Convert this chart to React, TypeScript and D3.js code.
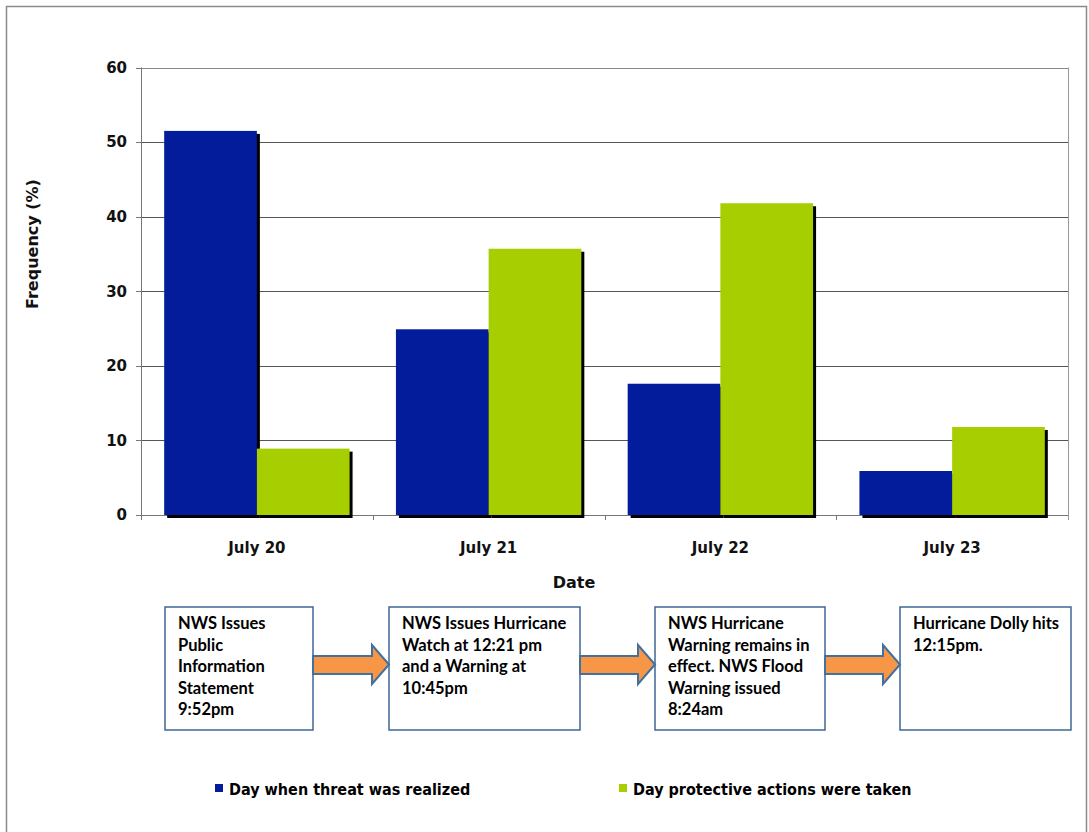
import React from "react";
import * as d3 from "d3";

const categories = ["July 20", "July 21", "July 22", "July 23"];
const seriesNames = ["Day when threat was realized", "Day protective actions were taken"];
const threatRealized = [51.5, 24.9, 17.6, 5.9];
const actionsTaken = [8.9, 35.7, 41.8, 11.8];
const yTicks = [0, 10, 20, 30, 40, 50, 60];
const seriesColors = ["#021C9C", "#A6CE00"];
const timelineTexts = [
  ["NWS Issues", "Public", "Information", "Statement", "9:52pm"],
  ["NWS Issues Hurricane", "Watch at 12:21 pm", "and a Warning at", "10:45pm"],
  ["NWS Hurricane", "Warning remains in", "effect. NWS Flood", "Warning issued", "8:24am"],
  ["Hurricane Dolly hits", "12:15pm."],
];
const boxLefts = [165, 389, 655, 900];
const boxRights = [313, 580, 825, 1071];

export default function App() {
  const left = 141, right = 1068, top = 67.5, bottom = 515;
  const x0 = d3.scaleBand<string>().domain(categories).range([left, right]).padding(0);
  const x1 = d3.scaleBand<string>().domain(seriesNames).range([0, x0.bandwidth()]).paddingInner(0).paddingOuter(0.25);
  const y = d3.scaleLinear().domain([0, 60]).range([bottom, top]);
  const series = [threatRealized, actionsTaken];
  const boxTop = 607, boxBottom = 730;
  const axisFont = "'DejaVu Sans', Verdana, sans-serif";

  const arrow = (xs: number, xe: number) => {
    const headBase = xe - 17;
    const p = d3.path();
    p.moveTo(xs, 656);
    p.lineTo(headBase, 656);
    p.lineTo(headBase, 645);
    p.lineTo(xe, 664.5);
    p.lineTo(headBase, 684);
    p.lineTo(headBase, 674);
    p.lineTo(xs, 674);
    p.closePath();
    return p.toString();
  };

  return (
    <svg width={1089} height={832} style={{ position: "absolute", left: 0, top: 0, background: "#fff" }}>
      <rect x={6.5} y={6.5} width={1080} height={840} fill="#fff" stroke="#8a8a8a" strokeWidth={1.5} />
      {/* gridlines */}
      {yTicks.map((t) => (
        <g key={t}>
          <line x1={left} x2={right} y1={Math.round(y(t)) + 0.5} y2={Math.round(y(t)) + 0.5}
            stroke={t === 60 ? "#8a8a8a" : t === 0 ? "#777" : "#555"} strokeWidth={1} />
          <line x1={136} x2={left} y1={Math.round(y(t)) + 0.5} y2={Math.round(y(t)) + 0.5} stroke="#777" />
          <text x={127} y={y(t)} dy="0.36em" textAnchor="end" fontFamily={axisFont} fontWeight="bold" fontSize={15} fill="#111">{t}</text>
        </g>
      ))}
      <line x1={left + 0.5} x2={left + 0.5} y1={top} y2={bottom + 5} stroke="#777" />
      <line x1={right + 0.5} x2={right + 0.5} y1={top} y2={bottom + 5} stroke="#999" />
      {categories.slice(1).map((c) => (
        <line key={c} x1={Math.round(x0(c)!) + 0.5} x2={Math.round(x0(c)!) + 0.5} y1={bottom} y2={bottom + 5} stroke="#777" />
      ))}
      {/* bars */}
      {series.map((vals, si) => (
        <g key={si}>
          {vals.map((v, ci) => {
            const bx = x0(categories[ci])! + x1(seriesNames[si])!;
            const w = x1.bandwidth();
            return (
              <g key={ci}>
                <rect x={bx + 3} y={y(v) + 3} width={w} height={bottom - y(v)} fill="#000" />
                <rect x={bx} y={y(v)} width={w} height={bottom - y(v)} fill={seriesColors[si]} />
              </g>
            );
          })}
        </g>
      ))}
      {/* x labels */}
      {categories.map((c) => (
        <text key={c} x={x0(c)! + x0.bandwidth() / 2} y={553} textAnchor="middle" fontFamily={axisFont} fontWeight="bold" fontSize={15} fill="#111">{c}</text>
      ))}
      <text x={574} y={588} textAnchor="middle" fontFamily={axisFont} fontWeight="bold" fontSize={16} fill="#111">Date</text>
      <text transform="translate(38,244) rotate(-90)" textAnchor="middle" fontFamily={axisFont} fontWeight="bold" fontSize={16} fill="#111">Frequency (%)</text>
      {/* timeline */}
      {boxLefts.map((bl, i) => (
        <g key={i}>
          <rect x={bl} y={boxTop} width={boxRights[i] - bl} height={boxBottom - boxTop} fill="#fff" stroke="#3F6796" strokeWidth={1.5} />
          {timelineTexts[i].map((line, li) => (
            <text key={li} x={bl + 13} y={629 + li * 21.5} fontFamily="Lato, 'Open Sans', sans-serif" fontWeight="bold" fontSize={16.5} fill="#000">{line}</text>
          ))}
        </g>
      ))}
      {boxRights.slice(0, 3).map((br, i) => (
        <path key={i} d={arrow(br, boxLefts[i + 1])} fill="#F79646" stroke="#41719C" strokeWidth={2} strokeLinejoin="miter" />
      ))}
      {/* legend */}
      {seriesNames.map((s, i) => {
        const lx = i === 0 ? 215 : 619;
        return (
          <g key={s}>
            <rect x={lx} y={784} width={8} height={8} fill={seriesColors[i]} />
            <text x={lx + 14} y={795} fontFamily="'DejaVu Sans Condensed', 'DejaVu Sans', sans-serif" fontStretch="condensed" fontWeight="bold" fontSize={16} fill="#000">{s}</text>
          </g>
        );
      })}
    </svg>
  );
}
